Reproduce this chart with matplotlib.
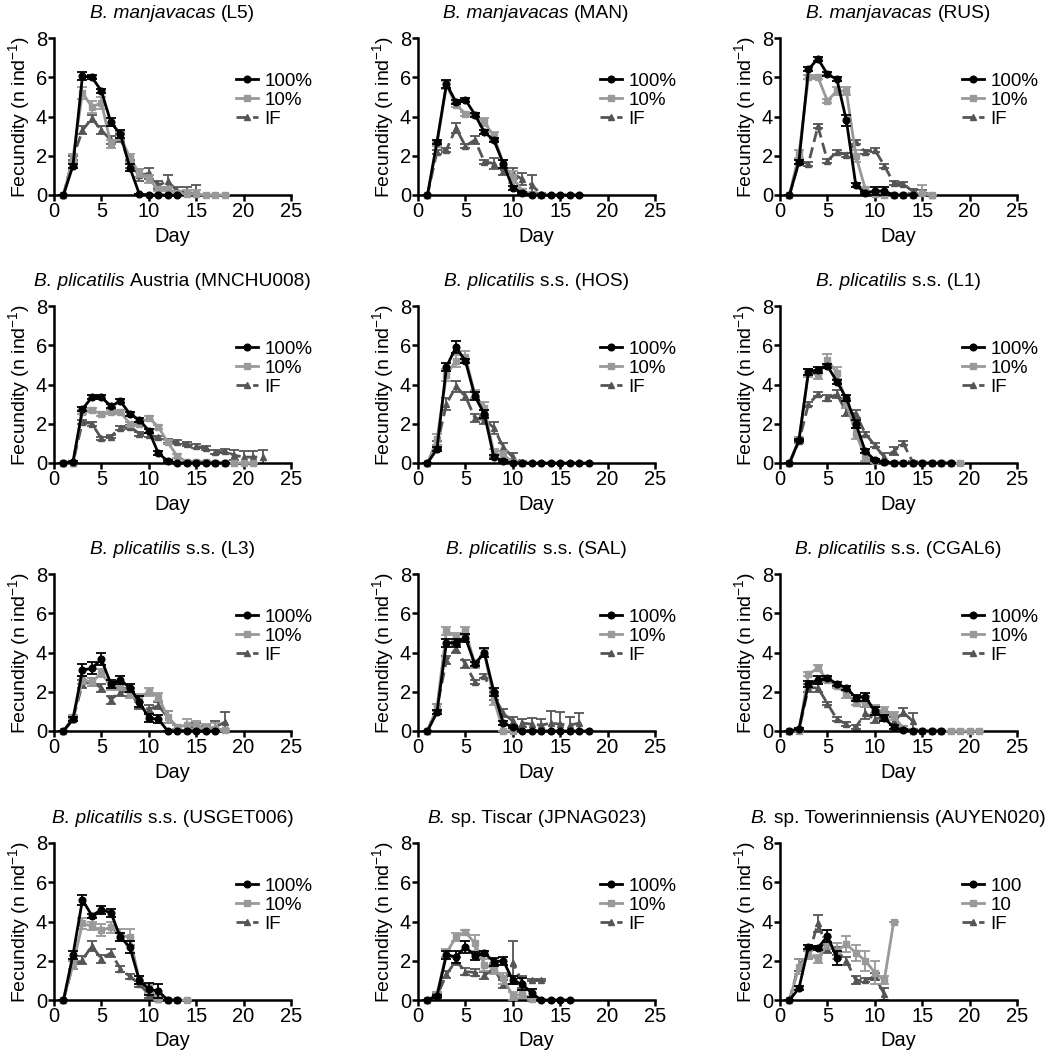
import numpy as np
import matplotlib
matplotlib.use("Agg")
import matplotlib.pyplot as plt
from matplotlib.offsetbox import TextArea, HPacker, AnchoredOffsetbox

plt.rcParams['font.family'] = ['Liberation Sans', 'DejaVu Sans']
plt.rcParams['mathtext.fontset'] = 'custom'
plt.rcParams['mathtext.rm'] = 'Liberation Sans'
plt.rcParams['mathtext.it'] = 'Liberation Sans:italic'

# ==================================================
# DATA (fecundity per day, mean and error)
# ==================================================
# (italic part, plain part) of each panel title
title_italic = ["B. manjavacas", "B. manjavacas", "B. manjavacas",
                "B. plicatilis", "B. plicatilis", "B. plicatilis",
                "B. plicatilis", "B. plicatilis", "B. plicatilis",
                "B. plicatilis", "B.", "B."]
title_plain = ["(L5)", "(MAN)", "(RUS)",
               "Austria (MNCHU008)", "s.s. (HOS)", "s.s. (L1)",
               "s.s. (L3)", "s.s. (SAL)", "s.s. (CGAL6)",
               "s.s. (USGET006)", "sp. Tiscar (JPNAG023)", "sp. Towerinniensis (AUYEN020)"]

l5_100 = [0, 1.5, 6.05, 6.0, 5.3, 3.7, 3.1, 1.4, 0.05, 0, 0, 0, 0]
l5_100_err = [0, 0.1, 0.2, 0.1, 0.1, 0.2, 0.2, 0.2, 0, 0, 0, 0, 0]
l5_10 = [0, 1.9, 5.2, 4.5, 4.7, 2.6, 3.0, 1.9, 1.1, 0.8, 0.3, 0.3, 0.1, 0.05, 0.05, 0, 0, 0]
l5_10_err = [0, 0.2, 0.3, 0.3, 0.3, 0.2, 0.2, 0.2, 0.2, 0.2, 0.1, 0.1, 0.1, 0.2, 0.2, 0, 0, 0]
l5_if = [0, 1.9, 3.3, 3.9, 3.3, 2.8, 2.9, 1.6, 1.0, 1.1, 0.5, 0.7, 0.2, 0.1, 0.1]
l5_if_err = [0, 0.1, 0.2, 0.2, 0.2, 0.2, 0.2, 0.2, 0.3, 0.3, 0.2, 0.3, 0.2, 0.3, 0.4]

man_100 = [0, 2.7, 5.65, 4.75, 4.85, 4.1, 3.2, 2.8, 1.6, 0.35, 0.1, 0, 0, 0, 0, 0, 0]
man_100_err = [0, 0.1, 0.2, 0.1, 0.1, 0.1, 0.1, 0.1, 0.2, 0.1, 0.05, 0, 0, 0, 0, 0, 0]
man_10 = [0, 2.6, 5.6, 4.6, 4.15, 4.1, 3.7, 3.0, 1.6, 0.9, 0.2, 0.05, 0]
man_10_err = [0, 0.1, 0.2, 0.1, 0.1, 0.1, 0.2, 0.2, 0.2, 0.3, 0.1, 0.05, 0]
man_if = [0, 2.2, 2.3, 3.4, 2.5, 2.8, 1.7, 1.6, 1.2, 1.1, 0.8, 0.5, 0.05]
man_if_err = [0, 0.1, 0.1, 0.25, 0.1, 0.2, 0.1, 0.3, 0.2, 0.3, 0.3, 0.5, 0.05]

rus_100 = [0, 1.7, 6.4, 6.95, 6.15, 5.9, 3.8, 0.5, 0.1, 0.2, 0.2, 0, 0, 0]
rus_100_err = [0, 0.1, 0.1, 0.1, 0.1, 0.1, 0.3, 0.1, 0.05, 0.2, 0.2, 0, 0, 0]
rus_10 = [0, 2.1, 6.0, 6.0, 4.8, 5.3, 5.3, 2.0, 0.3, 0.05, 0, 0, 0, 0, 0.1, 0]
rus_10_err = [0, 0.2, 0.1, 0.1, 0.1, 0.2, 0.2, 0.3, 0.1, 0.05, 0, 0, 0, 0, 0.4, 0]
rus_if = [0, 1.7, 1.6, 3.5, 1.75, 2.2, 2.05, 2.7, 2.2, 2.3, 1.5, 0.6, 0.55, 0.2, 0.15, 0]
rus_if_err = [0, 0.1, 0.1, 0.1, 0.1, 0.1, 0.1, 0.1, 0.1, 0.1, 0.1, 0.1, 0.1, 0.1, 0.1, 0]

mn_100 = [0, 0.05, 2.75, 3.35, 3.35, 2.9, 3.15, 2.5, 2.2, 1.65, 0.5, 0.1, 0, 0, 0, 0, 0, 0]
mn_100_err = [0, 0.05, 0.1, 0.1, 0.1, 0.1, 0.1, 0.1, 0.1, 0.1, 0.1, 0.05, 0, 0, 0, 0, 0, 0]
mn_10 = [0, 0, 2.6, 2.7, 2.5, 2.6, 2.6, 2.0, 2.0, 2.3, 1.85, 1.05, 0.35, 0.05, 0.05, 0.05, 0, 0, 0, 0, 0]
mn_10_err = [0, 0, 0.1, 0.1, 0.1, 0.1, 0.1, 0.1, 0.1, 0.1, 0.1, 0.1, 0.1, 0.05, 0.05, 0.05, 0, 0, 0, 0, 0]
mn_if = [0, 0, 2.1, 2.0, 1.25, 1.35, 1.8, 1.85, 1.5, 1.45, 1.3, 1.1, 1.05, 0.95, 0.85, 0.75, 0.55, 0.6, 0.4, 0.3, 0.3, 0.3]
mn_if_err = [0, 0, 0.1, 0.1, 0.1, 0.1, 0.1, 0.1, 0.1, 0.1, 0.1, 0.1, 0.1, 0.1, 0.1, 0.1, 0.1, 0.1, 0.25, 0.3, 0.3, 0.35]

hos_100 = [0, 0.7, 4.9, 5.9, 5.2, 3.4, 2.5, 0.3, 0.1, 0, 0, 0, 0, 0, 0, 0, 0, 0]
hos_100_err = [0, 0.1, 0.2, 0.3, 0.1, 0.2, 0.2, 0.1, 0.05, 0, 0, 0, 0, 0, 0, 0, 0, 0]
hos_10 = [0, 1.2, 4.5, 5.2, 5.4, 3.5, 2.8, 0.5, 0.4, 0.05, 0]
hos_10_err = [0, 0.3, 0.3, 0.3, 0.3, 0.2, 0.3, 0.2, 0.2, 0.05, 0]
hos_if = [0, 0.9, 3.0, 3.9, 3.4, 2.3, 2.2, 1.8, 0.8, 0.3, 0.05]
hos_if_err = [0, 0.2, 0.3, 0.3, 0.2, 0.2, 0.2, 0.3, 0.2, 0.2, 0.05]

l1_100 = [0, 1.15, 4.65, 4.75, 4.95, 4.15, 3.3, 2.0, 0.6, 0.15, 0.05, 0, 0, 0, 0, 0, 0, 0]
l1_100_err = [0, 0.05, 0.15, 0.15, 0.1, 0.1, 0.15, 0.2, 0.1, 0.05, 0.05, 0, 0, 0, 0, 0, 0, 0]
l1_10 = [0, 1.2, 4.6, 4.5, 5.25, 4.6, 3.0, 1.5, 0.3, 0.1, 0.05, 0, 0, 0, 0, 0, 0, 0, 0]
l1_10_err = [0, 0.1, 0.2, 0.2, 0.3, 0.3, 0.2, 0.3, 0.2, 0.1, 0.05, 0, 0, 0, 0, 0, 0, 0, 0]
l1_if = [0, 1.1, 3.0, 3.5, 3.3, 3.5, 2.6, 2.5, 1.5, 0.9, 0.3, 0.6, 1.0, 0.05]
l1_if_err = [0, 0.1, 0.1, 0.1, 0.15, 0.2, 0.2, 0.2, 0.1, 0.1, 0.2, 0.2, 0.1, 0.05]

l3_100 = [0, 0.6, 3.1, 3.2, 3.65, 2.4, 2.6, 2.2, 1.5, 0.65, 0.6, 0, 0, 0, 0, 0, 0]
l3_100_err = [0, 0.1, 0.3, 0.3, 0.3, 0.2, 0.2, 0.2, 0.3, 0.2, 0.2, 0, 0, 0, 0, 0, 0]
l3_10 = [0, 0.7, 2.6, 2.5, 2.95, 2.3, 2.3, 1.9, 1.7, 2.0, 1.75, 0.7, 0.2, 0.3, 0.3, 0.15, 0.1, 0.05]
l3_10_err = [0, 0.1, 0.2, 0.2, 0.2, 0.2, 0.2, 0.2, 0.2, 0.2, 0.2, 0.3, 0.1, 0.3, 0.2, 0.2, 0.3, 0.05]
l3_if = [0, 0.6, 2.4, 2.5, 2.2, 1.6, 2.0, 2.0, 1.3, 1.1, 1.3, 0.7, 0.2, 0.15, 0.2, 0.1, 0.2, 0.45]
l3_if_err = [0, 0.1, 0.2, 0.2, 0.2, 0.2, 0.2, 0.2, 0.2, 0.2, 0.2, 0.3, 0.1, 0.1, 0.2, 0.2, 0.3, 0.5]

sal_100 = [0, 0.95, 4.5, 4.5, 4.75, 3.4, 4.0, 2.0, 0.4, 0.2, 0, 0, 0, 0, 0, 0, 0, 0]
sal_100_err = [0, 0.1, 0.2, 0.2, 0.2, 0.1, 0.25, 0.2, 0.1, 0.05, 0, 0, 0, 0, 0, 0, 0, 0]
sal_10 = [0, 1.2, 5.1, 4.8, 5.1, 3.4, 4.0, 1.6, 0, 0]
sal_10_err = [0, 0.2, 0.2, 0.2, 0.2, 0.2, 0.2, 0.3, 0, 0]
sal_if = [0, 1.2, 3.6, 4.2, 3.4, 2.5, 2.8, 1.8, 0.9, 0.5, 0.4, 0.35, 0.3, 0.4, 0.35, 0.3, 0.4]
sal_if_err = [0, 0.2, 0.2, 0.2, 0.2, 0.1, 0.1, 0.2, 0.2, 0.2, 0.2, 0.3, 0.3, 0.6, 0.6, 0.4, 0.5]

cg_100 = [0, 0.1, 2.4, 2.6, 2.7, 2.4, 2.2, 1.7, 1.75, 1.0, 0.65, 0.2, 0.05, 0, 0, 0, 0]
cg_100_err = [0, 0.05, 0.15, 0.2, 0.1, 0.1, 0.1, 0.15, 0.2, 0.2, 0.15, 0.1, 0.05, 0, 0, 0, 0]
cg_10 = [0, 0, 2.9, 3.2, 2.6, 2.3, 1.9, 1.45, 1.5, 1.1, 1.0, 0.75, 0.15, 0, 0, 0, 0, 0, 0, 0, 0]
cg_10_err = [0, 0, 0.1, 0.15, 0.1, 0.1, 0.2, 0.1, 0.3, 0.2, 0.2, 0.2, 0.1, 0, 0, 0, 0, 0, 0, 0, 0]
cg_if = [0, 0.05, 2.2, 2.2, 1.4, 0.6, 0.35, 0.2, 0.9, 0.6, 0.75, 0.5, 0.95, 0.5]
cg_if_err = [0, 0.05, 0.2, 0.2, 0.1, 0.1, 0.1, 0.1, 0.3, 0.2, 0.2, 0.2, 0.2, 0.4]

us_100 = [0, 2.3, 5.1, 4.3, 4.6, 4.45, 3.2, 2.7, 1.0, 0.55, 0.45, 0, 0]
us_100_err = [0, 0.2, 0.25, 0.1, 0.2, 0.2, 0.2, 0.3, 0.2, 0.3, 0.35, 0, 0]
us_10 = [0, 1.8, 3.9, 3.75, 3.55, 3.7, 3.3, 3.2, 1.0, 0.55, 0.05, 0, 0, 0]
us_10_err = [0, 0.2, 0.3, 0.2, 0.3, 0.3, 0.3, 0.4, 0.2, 0.2, 0.05, 0, 0, 0]
us_if = [0, 1.8, 2.05, 2.75, 2.1, 2.4, 1.6, 1.2, 0.8, 0.3, 0.05]
us_if_err = [0, 0.2, 0.2, 0.25, 0.2, 0.2, 0.15, 0.15, 0.15, 0.2, 0.05]

jp_100 = [0, 0.2, 2.3, 2.2, 2.7, 2.25, 2.4, 1.95, 2.0, 1.0, 0.8, 0.35, 0, 0, 0, 0]
jp_100_err = [0, 0.05, 0.2, 0.3, 0.3, 0.2, 0.1, 0.2, 0.2, 0.2, 0.3, 0.2, 0, 0, 0, 0]
jp_10 = [0, 0.3, 2.4, 3.2, 3.45, 2.9, 1.8, 1.6, 1.1, 0.2, 0.3, 0.05]
jp_10_err = [0, 0.1, 0.2, 0.2, 0.1, 0.4, 0.3, 0.3, 0.3, 0.2, 0.2, 0.05]
jp_if = [0, 0.2, 1.3, 2.0, 1.45, 1.4, 1.25, 1.6, 0.8, 1.9, 0.9, 1.0, 1.0]
jp_if_err = [0, 0.1, 0.2, 0.2, 0.2, 0.2, 0.2, 0.2, 0.2, 1.1, 0.3, 0.05, 0.05]

au_100 = [0, 0.6, 2.7, 2.65, 3.25, 2.15]
au_100_err = [0, 0.1, 0.1, 0.1, 0.3, 0.35]
au_10 = [0, 1.7, 2.3, 2.1, 2.9, 2.5, 2.85, 2.4, 2.0, 1.4, 1.0, 4.0]
au_10_err = [0, 0.4, 0.2, 0.2, 0.3, 0.4, 0.4, 0.4, 0.5, 0.6, 0.2, 0]
au_if = [0, 1.8, 2.3, 3.9, 2.6, 2.5, 2.0, 1.0, 1.0, 1.2, 0.3]
au_if_err = [0, 0.3, 0.2, 0.45, 0.2, 0.2, 0.2, 0.2, 0.1, 0.2, 0.3]

series_100 = [l5_100, man_100, rus_100, mn_100, hos_100, l1_100,
              l3_100, sal_100, cg_100, us_100, jp_100, au_100]
errs_100 = [l5_100_err, man_100_err, rus_100_err, mn_100_err, hos_100_err, l1_100_err,
            l3_100_err, sal_100_err, cg_100_err, us_100_err, jp_100_err, au_100_err]
series_10 = [l5_10, man_10, rus_10, mn_10, hos_10, l1_10,
             l3_10, sal_10, cg_10, us_10, jp_10, au_10]
errs_10 = [l5_10_err, man_10_err, rus_10_err, mn_10_err, hos_10_err, l1_10_err,
           l3_10_err, sal_10_err, cg_10_err, us_10_err, jp_10_err, au_10_err]
series_if = [l5_if, man_if, rus_if, mn_if, hos_if, l1_if,
             l3_if, sal_if, cg_if, us_if, jp_if, au_if]
errs_if = [l5_if_err, man_if_err, rus_if_err, mn_if_err, hos_if_err, l1_if_err,
           l3_if_err, sal_if_err, cg_if_err, us_if_err, jp_if_err, au_if_err]

legend_labels = [["100%", "10%", "IF"]] * 11 + [["100", "10", "IF"]]

# ==================================================
# PLOT
# ==================================================
W, H = 1048, 1050
fig = plt.figure(figsize=(W / 100, H / 100), dpi=100)

lefts = [54, 418, 780]
tops = [38, 306, 574, 843]
aw, ah = 237, 157
TITLE_FS = 13.8

styles = [
    dict(color="black", marker="o", ls="-", zorder=4),
    dict(color="#999999", marker="s", ls="-", zorder=3),
    dict(color="#555555", marker="^", ls=(0, (4, 2)), zorder=2),
]

for k in range(12):
    r, c = divmod(k, 3)
    ax = fig.add_axes([lefts[c] / W, 1 - (tops[r] + ah) / H, aw / W, ah / H])

    data = [(series_100[k], errs_100[k]), (series_10[k], errs_10[k]), (series_if[k], errs_if[k])]
    handles = []
    for (y, e), st, lab in zip(data, styles, legend_labels[k]):
        x = np.arange(1, len(y) + 1)
        ax.errorbar(x, y, yerr=e, color=st["color"], ecolor=st["color"],
                    elinewidth=1.3, capsize=3.5, capthick=1.3, fmt="none", zorder=st["zorder"])
        h, = ax.plot(x, y, color=st["color"], marker=st["marker"], ls=st["ls"],
                     lw=2, ms=4.8, zorder=st["zorder"], label=lab, clip_on=False)
        handles.append(h)

    ax.set_xlim(0, 25)
    ax.set_ylim(0, 8)
    ax.set_xticks([0, 5, 10, 15, 20, 25])
    ax.set_yticks([0, 2, 4, 6, 8])
    for s in ["top", "right"]:
        ax.spines[s].set_visible(False)
    for s in ["left", "bottom"]:
        ax.spines[s].set_linewidth(1.8)
    ax.tick_params(width=1.8, length=4, labelsize=14.5, pad=1)
    ax.set_xlabel("Day", fontsize=14.5, labelpad=4)
    ax.set_ylabel(r"Fecundity (n ind$^{-1}$)", fontsize=14, labelpad=3)

    # title: italic genus/species part + plain part
    t_it = TextArea(title_italic[k], textprops=dict(fontsize=TITLE_FS, fontstyle="italic"))
    t_pl = TextArea(title_plain[k], textprops=dict(fontsize=TITLE_FS))
    box = HPacker(children=[t_it, t_pl], align="baseline", pad=0, sep=4)
    anch = AnchoredOffsetbox(loc="lower center", child=box, pad=0, frameon=False,
                             bbox_to_anchor=(0.5, 1.1), bbox_transform=ax.transAxes,
                             borderpad=0)
    ax.add_artist(anch)

    ax.legend(handles=handles, loc="upper left", bbox_to_anchor=(0.77, 0.78),
              frameon=False, fontsize=13.5, handlelength=1.15, handletextpad=0.35,
              labelspacing=0.1, borderpad=0, borderaxespad=0)

fig.savefig("out.png", dpi=100)
